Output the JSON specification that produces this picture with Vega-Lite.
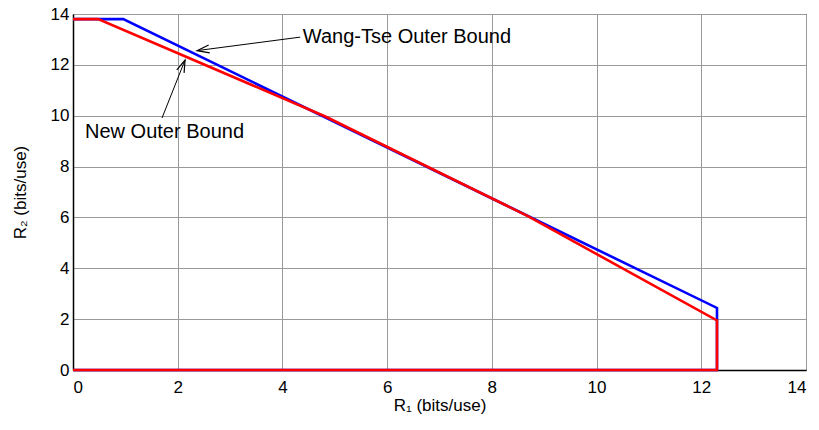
{
  "$schema": "https://vega.github.io/schema/vega-lite/v6.json",
  "width": 733,
  "height": 356,
  "autosize": {"type": "none"},
  "padding": {"left": 73, "top": 14, "right": 13, "bottom": 60},
  "background": "white",
  "config": {
    "font": "Liberation Sans",
    "view": {"stroke": "black", "strokeWidth": 1},
    "axis": {
      "grid": true,
      "gridColor": "#9a9a9a",
      "gridWidth": 1,
      "gridOpacity": 1,
      "ticks": false,
      "domainColor": "black",
      "domainWidth": 1.5,
      "labelFont": "Liberation Sans",
      "labelFontSize": 17,
      "labelColor": "black",
      "titleFont": "Liberation Sans",
      "titleFontSize": 17,
      "titleFontWeight": "normal",
      "titleColor": "black"
    }
  },
  "datasets": {
    "bounds": [
      {"series": "Wang-Tse Outer Bound", "idx": 0, "r1": 0, "r2": 13.8},
      {"series": "Wang-Tse Outer Bound", "idx": 1, "r1": 0.96, "r2": 13.8},
      {"series": "Wang-Tse Outer Bound", "idx": 2, "r1": 12.3, "r2": 2.44},
      {"series": "Wang-Tse Outer Bound", "idx": 3, "r1": 12.3, "r2": 0},
      {"series": "Wang-Tse Outer Bound", "idx": 4, "r1": 0, "r2": 0},
      {"series": "New Outer Bound", "idx": 0, "r1": 0, "r2": 13.8},
      {"series": "New Outer Bound", "idx": 1, "r1": 0.48, "r2": 13.8},
      {"series": "New Outer Bound", "idx": 2, "r1": 4.82, "r2": 9.97},
      {"series": "New Outer Bound", "idx": 3, "r1": 8.67, "r2": 6.07},
      {"series": "New Outer Bound", "idx": 4, "r1": 12.3, "r2": 1.95},
      {"series": "New Outer Bound", "idx": 5, "r1": 12.3, "r2": 0},
      {"series": "New Outer Bound", "idx": 6, "r1": 0, "r2": 0}
    ],
    "labels": [
      {"label": "Wang-Tse Outer Bound", "tx": 4.39, "ty": 12.86, "ax": 4.34, "ay": 13.09, "hx": 2.37, "hy": 12.56},
      {"label": "New Outer Bound", "tx": 0.23, "ty": 9.12, "ax": 1.70, "ay": 9.91, "hx": 2.14, "hy": 12.19}
    ]
  },
  "layer": [
    {
      "data": {"name": "bounds"},
      "transform": [{"filter": "datum.series === 'Wang-Tse Outer Bound'"}],
      "mark": {"type": "line", "color": "#0000ff", "strokeWidth": 2.6, "clip": false},
      "encoding": {
        "x": {"field": "r1", "type": "quantitative", "scale": {"domain": [0, 14], "nice": false},
          "axis": {"values": [0, 2, 4, 6, 8, 10, 12, 14], "title": "R\u2081 (bits/use)", "labelPadding": 9, "titlePadding": 2}},
        "y": {"field": "r2", "type": "quantitative", "scale": {"domain": [0, 14], "nice": false},
          "axis": {"values": [0, 2, 4, 6, 8, 10, 12, 14], "title": "R\u2082 (bits/use)", "labelPadding": 4, "titlePadding": 21}},
        "order": {"field": "idx", "type": "quantitative"}
      }
    },
    {
      "data": {"name": "bounds"},
      "transform": [{"filter": "datum.series === 'New Outer Bound'"}],
      "mark": {"type": "line", "color": "#ff0000", "strokeWidth": 2.6, "clip": false},
      "encoding": {
        "x": {"field": "r1", "type": "quantitative"},
        "y": {"field": "r2", "type": "quantitative"},
        "order": {"field": "idx", "type": "quantitative"}
      }
    },
    {
      "data": {"name": "labels"},
      "mark": {"type": "rule", "color": "black", "strokeWidth": 1},
      "encoding": {
        "x": {"field": "ax", "type": "quantitative"},
        "y": {"field": "ay", "type": "quantitative"},
        "x2": {"field": "hx"},
        "y2": {"field": "hy"}
      }
    },
    {
      "data": {"name": "labels"},
      "transform": [{"filter": "datum.label === 'Wang-Tse Outer Bound'"}],
      "mark": {"type": "point", "shape": "M-0.32,1L0,0L0.32,1", "filled": false, "stroke": "black", "strokeWidth": 1.2, "size": 600, "angle": 262, "opacity": 1},
      "encoding": {
        "x": {"field": "hx", "type": "quantitative"},
        "y": {"field": "hy", "type": "quantitative"}
      }
    },
    {
      "data": {"name": "labels"},
      "transform": [{"filter": "datum.label === 'New Outer Bound'"}],
      "mark": {"type": "point", "shape": "M-0.32,1L0,0L0.32,1", "filled": false, "stroke": "black", "strokeWidth": 1.2, "size": 600, "angle": 22, "opacity": 1},
      "encoding": {
        "x": {"field": "hx", "type": "quantitative"},
        "y": {"field": "hy", "type": "quantitative"}
      }
    },
    {
      "data": {"name": "labels"},
      "mark": {"type": "text", "align": "left", "baseline": "alphabetic", "fontSize": 20, "font": "Liberation Sans", "color": "black"},
      "encoding": {
        "x": {"field": "tx", "type": "quantitative"},
        "y": {"field": "ty", "type": "quantitative"},
        "text": {"field": "label"}
      }
    }
  ]
}
